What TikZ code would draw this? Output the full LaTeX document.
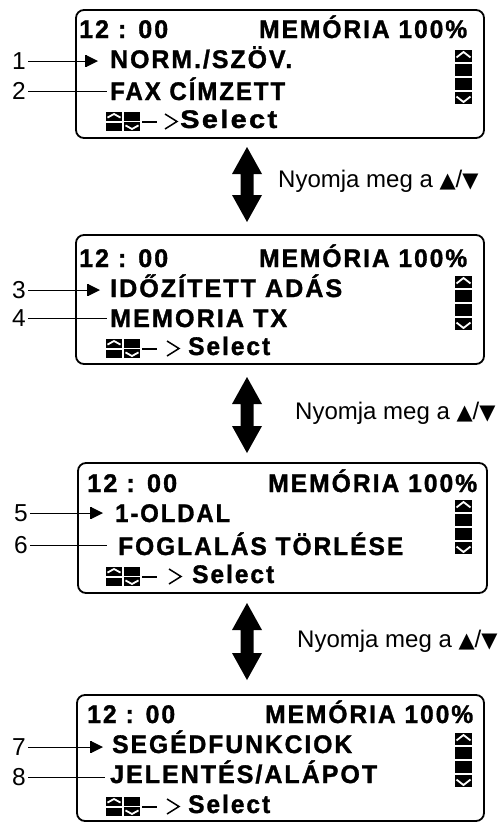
\documentclass[tikz,border=0pt]{standalone}
\usepackage{fontspec}
\usepackage{graphicx}
\setmainfont{Liberation Sans}
\newfontfamily\lcdfont{Liberation Sans}[LetterSpace=8, BoldFeatures={FakeBold=1.3}]
\newfontfamily\symfont{DejaVu Sans}
\newcommand\fitw[2]{\resizebox{#1pt}{\height}{#2}}
\newcommand\upblk[4]{%
  \fill (#1,#2) rectangle (#3,#4);
  \draw[white,line width=1.8pt] ({(#1)+1.5},{(#2)+0.62*((#4)-(#2))}) -- ({((#1)+(#3))/2},{(#2)+2}) -- ({(#3)-1.5},{(#2)+0.62*((#4)-(#2))});}
\newcommand\dnblk[4]{%
  \fill (#1,#2) rectangle (#3,#4);
  \draw[white,line width=1.8pt] ({(#1)+1.5},{(#4)-0.62*((#4)-(#2))}) -- ({((#1)+(#3))/2},{(#4)-2}) -- ({(#3)-1.5},{(#4)-0.62*((#4)-(#2))});}
\newcommand\scrollbar[1]{%
  \upblk{455}{#1}{472}{#1+12}
  \fill (455,{#1+14}) rectangle (472,{#1+26});
  \fill (455,{#1+28}) rectangle (472,{#1+40});
  \dnblk{455}{#1+42}{472}{#1+54}}
\newcommand\selrow[2]{%
  \upblk{106}{#1}{122}{#1+9}
  \fill (106,{#1+10.5}) rectangle (122,{#1+19});
  \fill (124,{#1}) rectangle (140,{#1+8.5});
  \dnblk{124}{#1+10}{140}{#1+19}
  \draw[line width=2pt] (142,{#1+9.5}) -- (157,{#1+9.5});
  \draw[line width=1.5pt] (#2,{#1+2}) -- ({#2+12},{#1+9.5}) -- (#2,{#1+17});}
\newcommand\pointer[2]{%
  \fill (#1,{#2-6}) rectangle ({#1+2},{#2+6});
  \fill ({#1+2},{#2-5.5}) -- ({#1+2},{#2+5.5}) -- ({#1+13},#2) -- cycle;}
\newcommand\dblarrow[3]{%
  \fill (#1,#2) -- ({#1+15},{#2+27}) -- ({#1+6.5},{#2+27}) -- ({#1+6.5},{#3-27}) -- ({#1+15},{#3-27}) -- (#1,#3) -- ({#1-15},{#3-27}) -- ({#1-6.5},{#3-27}) -- ({#1-6.5},{#2+27}) -- ({#1-15},{#2+27}) -- cycle;}
\newcommand\hinttext{Nyomja meg a {\symfont\fontsize{21}{21}\selectfont ▲}/{\symfont\fontsize{21}{21}\selectfont ▼}}
\begin{document}
\begin{tikzpicture}[x=1pt,y=-1pt,
  panel/.style={line width=1.8pt, rounded corners=8pt},
  lcd/.style={anchor=base west, inner sep=0pt, font=\lcdfont\bfseries\fontsize{25.5}{25.5}\selectfont},
  num/.style={anchor=east, inner xsep=2pt, inner ysep=0pt, font=\fontsize{24.5}{24.5}\selectfont},
  callout/.style={line width=0.9pt},
  hint/.style={anchor=base west, inner sep=0pt, font=\fontsize{24}{24}\selectfont},
]
\useasboundingbox (0,0) rectangle (501,822);
\fill[white] (0,0) rectangle (501,822);

% ---------- panel 1
\draw[panel] (76,10) rectangle (484,138);
\node[lcd] (a1) at (79,38) {\fitw{89}{12 : 00}};
\node[lcd] (a2) at (259,38) {\fitw{208}{MEMÓRIA 100\%}};
\node[lcd] (a3) at (110,68) {\fitw{182}{NORM./SZÖV.}};
\node[lcd] (a4) at (110,100) {\fitw{175}{FAX CÍMZETT}};
\selrow{112}{165}
\node[lcd] (a5) at (180,128) {\fitw{97}{Select}};
\scrollbar{50}
\pointer{85}{61}
\node[num] (n1) at (28,61) {1};
\coordinate (q1) at (85,61);
\draw[callout] (n1.east) -- (q1);
\node[num] (n2) at (28,91) {2};
\coordinate (q2) at (107,91);
\draw[callout] (n2.east) -- (q2);

\dblarrow{247}{147}{222}
\node[hint] (h1) at (278,187) {\hinttext};

% ---------- panel 2
\draw[panel] (76,235) rectangle (484,364);
\node[lcd] (b1) at (79,267) {\fitw{89}{12 : 00}};
\node[lcd] (b2) at (259,267) {\fitw{208}{MEMÓRIA 100\%}};
\node[lcd] (b3) at (110,297) {\fitw{232}{IDŐZÍTETT ADÁS}};
\node[lcd] (b4) at (110,327) {\fitw{177}{MEMORIA TX}};
\selrow{339}{167}
\node[lcd] (b5) at (188,355) {\fitw{82}{Select}};
\scrollbar{276}
\pointer{87}{290}
\node[num] (n3) at (28,290) {3};
\coordinate (q3) at (87,290);
\draw[callout] (n3.east) -- (q3);
\node[num] (n4) at (28,318) {4};
\coordinate (q4) at (107,318);
\draw[callout] (n4.east) -- (q4);

\dblarrow{247}{377}{453}
\node[hint] (h2) at (295,419) {\hinttext};

% ---------- panel 3
\draw[panel] (78,463) rectangle (487,593);
\node[lcd] (c1) at (87,492) {\fitw{90}{12 : 00}};
\node[lcd] (c2) at (268,492) {\fitw{209}{MEMÓRIA 100\%}};
\node[lcd] (c3) at (115,522) {\fitw{115}{1-OLDAL}};
\node[lcd] (c4) at (118,555) {\fitw{285}{FOGLALÁS TÖRLÉSE}};
\selrow{567}{169}
\node[lcd] (c5) at (192,583) {\fitw{82}{Select}};
\scrollbar{500}
\pointer{90}{513}
\node[num] (n5) at (30,513) {5};
\coordinate (q5) at (90,513);
\draw[callout] (n5.east) -- (q5);
\node[num] (n6) at (30,545) {6};
\coordinate (q6) at (107,545);
\draw[callout] (n6.east) -- (q6);

\dblarrow{247}{603}{680}
\node[hint] (h3) at (297,647) {\hinttext};

% ---------- panel 4
\draw[panel] (77,695) rectangle (484,821);
\node[lcd] (d1) at (87,723) {\fitw{88}{12 : 00}};
\node[lcd] (d2) at (265,723) {\fitw{208}{MEMÓRIA 100\%}};
\node[lcd] (d3) at (112,753) {\fitw{240}{SEGÉDFUNKCIOK}};
\node[lcd] (d4) at (110,783) {\fitw{267}{JELENTÉS/ALÁPOT}};
\selrow{797}{167}
\node[lcd] (d5) at (188,813) {\fitw{82}{Select}};
\scrollbar{733}
\pointer{90}{747}
\node[num] (n7) at (28,747) {7};
\coordinate (q7) at (90,747);
\draw[callout] (n7.east) -- (q7);
\node[num] (n8) at (28,777) {8};
\coordinate (q8) at (105,777);
\draw[callout] (n8.east) -- (q8);
\end{tikzpicture}
\end{document}
